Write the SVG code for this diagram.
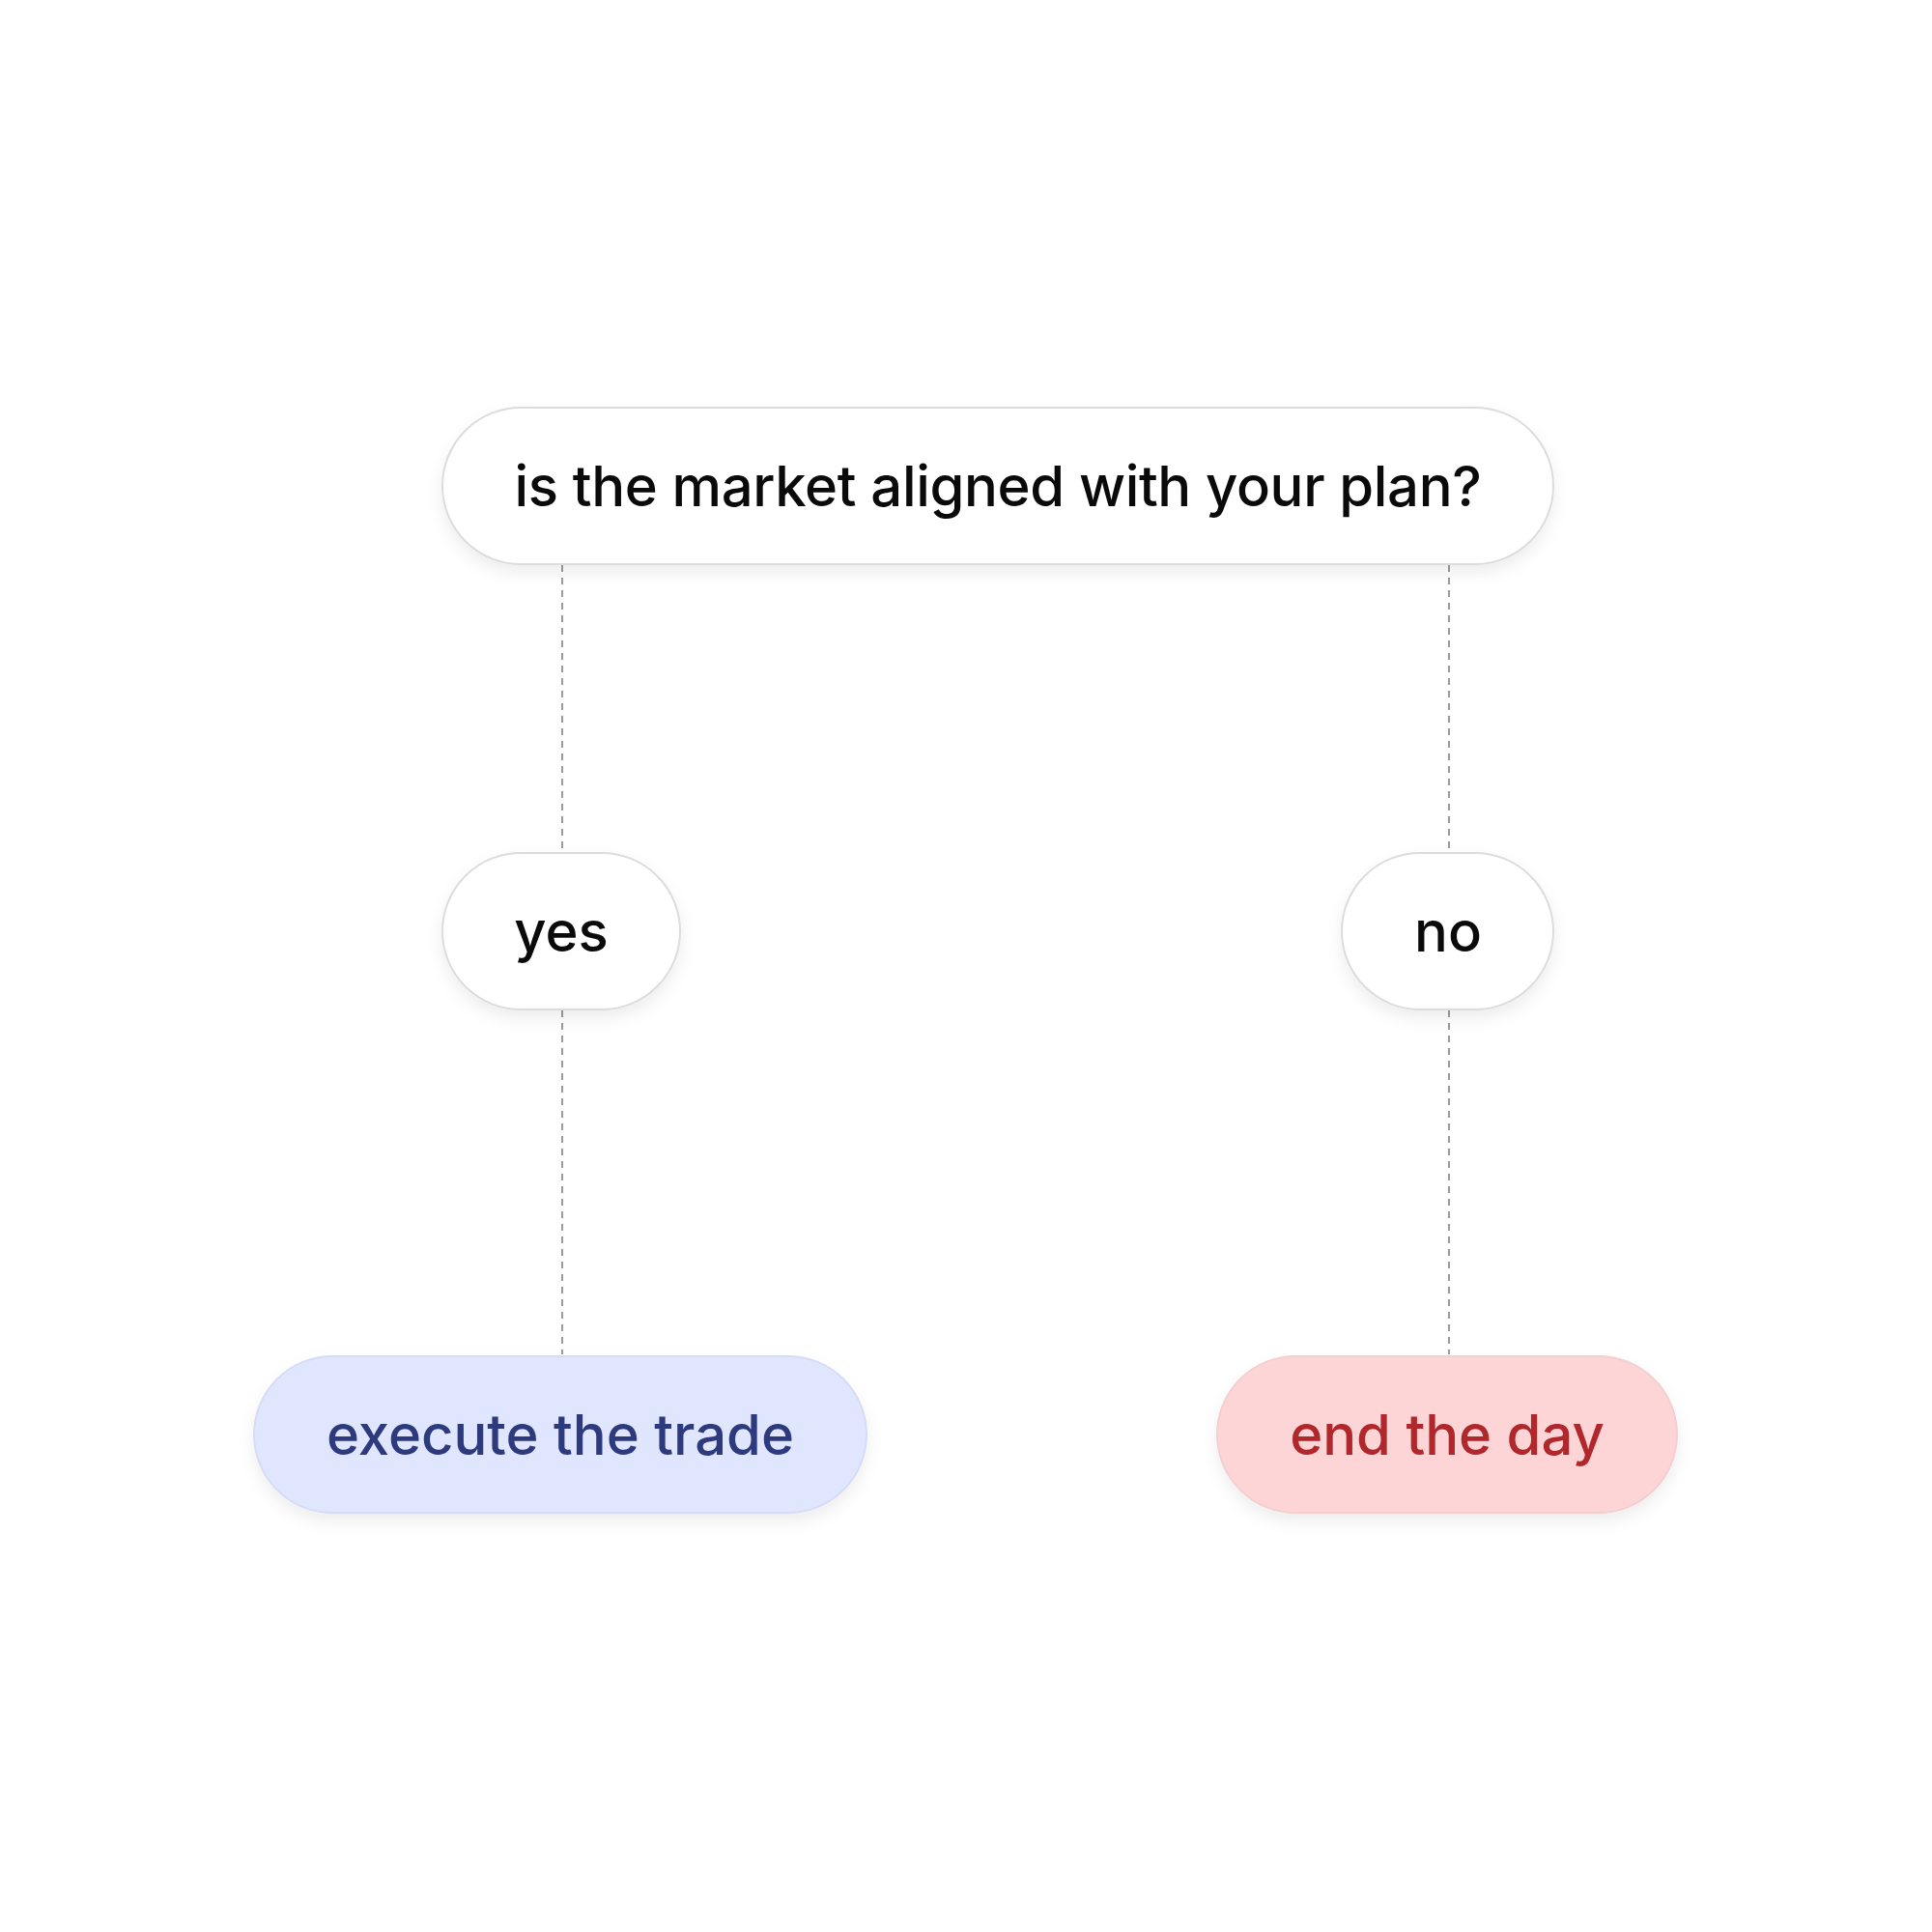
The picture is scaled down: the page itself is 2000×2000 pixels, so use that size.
<svg xmlns="http://www.w3.org/2000/svg" width="2000" height="2000" viewBox="0 0 2000 2000">
<style>
.node{stroke:#dcdcdc;stroke-width:2;filter:url(#sh)}
.w{fill:#ffffff}
.blue{fill:#e0e6fd;stroke:#d6dcf5}
.red{fill:#fdd5d6;stroke:#f3cfd0}
.t{font-family:Inter,"Noto Sans",sans-serif;font-size:58px;font-weight:500;text-anchor:middle;fill:#0a0a0a}
.q{letter-spacing:-0.35px}
.tb{fill:#2e3a7e}
.tr{fill:#b1282c}
.conn{stroke:#9a9a9a;stroke-width:2;stroke-dasharray:7 6;fill:none}
</style>
<defs>
<filter id="sh" x="-20%" y="-30%" width="140%" height="170%">
<feDropShadow dx="0" dy="8" stdDeviation="8" flood-color="#000" flood-opacity="0.07"/>
</filter>
</defs>
<rect width="2000" height="2000" fill="#ffffff"/>
<g id="connectors">
<line class="conn" x1="582" y1="585" x2="582" y2="882"/>
<line class="conn" x1="1500" y1="585" x2="1500" y2="882"/>
<line class="conn" x1="582" y1="1046" x2="582" y2="1402"/>
<line class="conn" x1="1500" y1="1046" x2="1500" y2="1402"/>
</g>
<g id="question">
<rect class="node w" x="458" y="422" width="1150" height="162" rx="81"/>
<text class="t q" x="1033" y="524">is the market aligned with your plan?</text>
</g>
<g id="yes">
<rect class="node w" x="458" y="883" width="246" height="162" rx="81"/>
<text class="t" x="581" y="985">yes</text>
</g>
<g id="no">
<rect class="node w" x="1389" y="883" width="219" height="162" rx="81"/>
<text class="t" x="1499" y="985">no</text>
</g>
<g id="execute">
<rect class="node blue" x="263" y="1404" width="634" height="162" rx="81"/>
<text class="t tb" x="580" y="1506">execute the trade</text>
</g>
<g id="end">
<rect class="node red" x="1260" y="1404" width="476" height="162" rx="81"/>
<text class="t tr" x="1498" y="1506">end the day</text>
</g>
</svg>
